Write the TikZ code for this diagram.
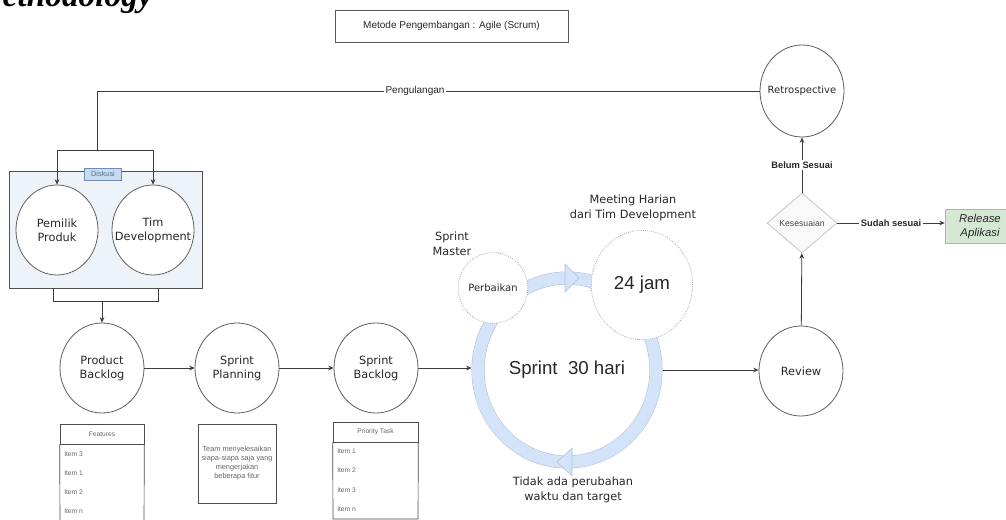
\documentclass[tikz,border=0pt]{standalone}
\usepackage{fontspec}
\setmainfont{Liberation Sans}
\newfontfamily\dejavu{DejaVu Sans}
\newfontfamily\timesbi{Liberation Serif}
\usetikzlibrary{arrows.meta,shapes.geometric}

\begin{document}
\begin{tikzpicture}[x=0.75pt,y=-0.75pt,
  proc/.style={ellipse,draw=circColor,fill=white,line width=0.6pt,minimum width=63pt,minimum height=67.5pt,inner sep=0pt,label={[proctext]center:#1}},
  proctext/.style={inner sep=0pt,align=center,text=textColor,font=\dejavu\fontsize{8.5}{10.5}\selectfont},
  dots/.style={ellipse,draw=gray!70,densely dotted,fill=white,line width=0.6pt,inner sep=0pt,align=center,text=textColor},
  flow/.style={draw=lineColor,line width=0.6pt,-{Stealth[length=4pt,width=3.5pt]}},
  link/.style={draw=lineColor,line width=0.6pt},
  lbl/.style={fill=white,inner sep=1.5pt,text=textColor,font=\fontsize{7.5}{9}\selectfont},
  tiny/.style={anchor=west,inner sep=0pt,text=gray!80!black,font=\fontsize{5}{6}\selectfont},
  head/.style={draw=gray!60!black,line width=0.5pt,minimum height=15pt,inner sep=0pt,text=gray!80!black,font=\fontsize{5}{6}\selectfont}]
\definecolor{lineColor}{RGB}{60,60,60}
\definecolor{circColor}{RGB}{95,95,95}
\definecolor{textColor}{RGB}{40,40,40}
\definecolor{teamFill}{RGB}{238,243,249}
\definecolor{teamLine}{RGB}{80,80,80}
\definecolor{diskFill}{RGB}{200,219,240}
\definecolor{diskLine}{RGB}{110,140,180}
\definecolor{ringFill}{RGB}{212,227,247}
\definecolor{ringLine}{RGB}{172,196,230}
\definecolor{relFill}{RGB}{213,232,212}
\definecolor{relLine}{RGB}{160,195,150}
\path[use as bounding box,fill=white] (0,0) rectangle (1006,520);
\begin{scope}
\path[clip] (0,0) rectangle (1006,520);

\node[anchor=base east,inner sep=0pt,font=\timesbi\bfseries\itshape\fontsize{25}{30}\selectfont] (heading) at (153,7) {Methodology};

\node[draw=gray!70!black,line width=0.6pt,minimum width=174.75pt,minimum height=24pt,text=textColor,font=\fontsize{7.5}{9}\selectfont] (title) at (451.5,26) {Metode Pengembangan : Agile (Scrum)};

\node[draw=teamLine,fill=teamFill,line width=0.6pt,minimum width=144.75pt,minimum height=87.75pt] (team) at (105.5,229.5) {};
\node[proc={Pemilik\\Produk},minimum width=61.5pt] (po) at (57,230) {};
\node[proc={Tim\\Development},minimum width=61.5pt] (td) at (153,230) {};
\node[draw=diskLine,fill=diskFill,line width=0.5pt,minimum width=27.75pt,minimum height=9pt,inner sep=0pt,text=diskLine!80!black,font=\fontsize{5.5}{6}\selectfont] (diskusi) at (103,174) {Diskusi};

\node[proc={Product\\Backlog}] (pb) at (102,368) {};
\node[proc={Sprint\\Planning}] (sp) at (237,368) {};
\node[proc={Sprint\\Backlog}] (sb) at (376,368) {};

\node[ellipse,draw=ringLine,double=ringFill,double distance=9pt,line width=0.4pt,minimum width=133.5pt,minimum height=138pt,outer sep=4.9pt,text=textColor,font=\fontsize{14}{16}\selectfont] (sprint) at (567,370) {Sprint\ \ 30 hari};
\filldraw[fill=ringFill,draw=ringLine,line width=0.4pt] (565,264) -- (579,278) -- (565,292) -- cycle;
\filldraw[fill=ringFill,draw=ringLine,line width=0.4pt] (572,448) -- (557,462) -- (572,476) -- cycle;

\node[dots,minimum width=48pt,minimum height=53pt,font=\dejavu\fontsize{7.5}{9}\selectfont] (fix) at (493,288) {Perbaikan};
\node[dots,minimum width=76pt,minimum height=82pt,font=\fontsize{14}{16}\selectfont] (daily) at (642,285) {24 jam};
\node[align=center,inner sep=0pt,text=textColor,font=\dejavu\fontsize{8.5}{11}\selectfont] (master) at (452,244) {Sprint\\Master};
\node[align=center,inner sep=0pt,text=textColor,font=\dejavu\fontsize{8.5}{11}\selectfont] (meeting) at (633,208) {Meeting Harian\\dari Tim Development};
\node[align=center,inner sep=0pt,text=textColor,font=\dejavu\fontsize{8.5}{11}\selectfont] (nochange) at (573,490) {Tidak ada perubahan\\waktu dan target};

\node[proc={Review}] (review) at (801,371) {};
\node[diamond,draw=gray!45,fill=gray!5,line width=0.6pt,minimum width=52.5pt,minimum height=45pt,inner sep=0pt,text=gray!60!black,font=\fontsize{6.5}{8}\selectfont] (kes) at (802,223) {Kesesuaian};
\node[proc={\fontsize{7.5}{9}\selectfont Retrospective},minimum height=69pt] (retro) at (802,91) {};
\node[draw=relLine,fill=relFill,line width=0.5pt,minimum width=52.5pt,minimum height=25pt,align=center,text=textColor,font=\itshape\fontsize{8.5}{10}\selectfont] (rel) at (980,226.5) {Release\\Aplikasi};

\draw[flow] (pb) -- (sp);
\draw[flow] (sp) -- (sb);
\draw[flow] (sb.east) -- (sb.east -| sprint.west);
\draw[flow] (sprint.east) -- (sprint.east -| review.west);
\draw[flow] (review) -- (kes);
\draw[flow] (kes) -- node[lbl,font=\bfseries\fontsize{7}{8}\selectfont] (notyet) {Belum Sesuai} (retro);
\draw[flow] (kes.east) -- node[lbl,font=\bfseries\fontsize{7}{8}\selectfont] (done) {Sudah sesuai} (kes.east -| rel.west);

\coordinate (loop) at (97,91);
\coordinate (split) at (97,150);
\draw[link] (retro.west) -- (loop) -- (split);
\node[lbl] (again) at (415,91) {Pengulangan};
\draw[flow] (split) -| (po.north);
\draw[flow] (split) -| (td.north);

\coordinate (joinl) at (53,301);
\coordinate (joinr) at (158,301);
\coordinate (join) at (102,301);
\draw[link] (team.south -| joinl) -- (joinl) -- (joinr) -- (team.south -| joinr);
\draw[flow] (join) -- (pb);

\node[head,minimum width=63pt] (feat) at (102,434) {Features};
\draw[gray!60!black,line width=0.5pt] (feat.south west) -- (60,525) -- (144,525) -- (feat.south east);
\foreach \t/\y in {Item 3/454,Item 1/473,Item 2/492,Item n/511}
  \node[tiny] (feat\y) at (64,\y) {\t};

\node[draw=gray!60!black,line width=0.5pt,minimum width=58.5pt,minimum height=59.25pt,inner sep=0pt,align=center,text=gray!80!black,font=\fontsize{5.5}{6.8}\selectfont] (plan) at (237,463.5) {Team menyelesaikan\\siapa-siapa saja yang\\mengerjakan\\beberapa fitur};

\node[head,minimum width=63.75pt] (prio) at (375.5,432) {Priority Task};
\draw[gray!60!black,line width=0.5pt] (prio.south west) -- (333,519) -- (418,519) -- (prio.south east);
\foreach \t/\y in {Item 1/451,Item 2/470,Item 3/490,Item n/509}
  \node[tiny] (prio\y) at (337,\y) {\t};
\end{scope}
\end{tikzpicture}
\end{document}
